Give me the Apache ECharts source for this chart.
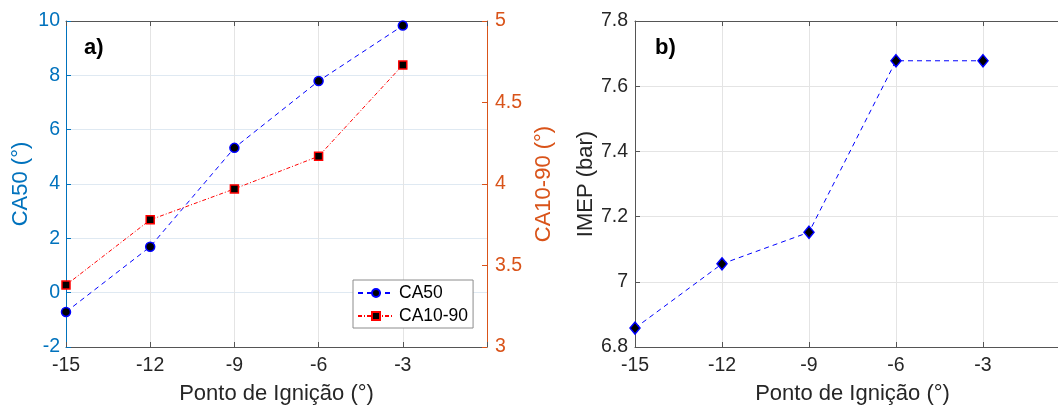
<!DOCTYPE html>
<html>
<head>
<meta charset="utf-8">
<script src="https://cdn.jsdelivr.net/npm/echarts@6/dist/echarts.min.js"></script>
<style>
  html, body { margin: 0; padding: 0; background: #fff; }
  #main { width: 1058px; height: 408px; }
</style>
</head>
<body>
<div id="main"></div>
<script>
// dados
var ignicao = [-15, -12, -9, -6, -3];
var ca50 = [-0.71, 1.69, 5.33, 7.79, 9.83];
var ca1090 = [3.38, 3.78, 3.97, 4.17, 4.73];
var imep = [6.858, 7.055, 7.152, 7.678, 7.678];
var xTicks = [-15, -12, -9, -6, -3];

var fonte = '"Liberation Sans", Arial, sans-serif';
var azul = '#0072BD', laranja = '#D95319', cinza = '#262626';

function pares(ys) {
    return ignicao.map(function (x, i) { return [x, ys[i]]; });
}
function rotX(v) { return xTicks.indexOf(v) >= 0 ? String(v) : ''; }

var myChart = echarts.init(document.getElementById('main'));

// eixo x base (usado nos dois paineis)
function eixoX(grid, top) {
    return {
        type: 'value', gridIndex: grid, min: -15, max: 0, interval: 3,
        position: top ? 'top' : 'bottom',
        name: top ? '' : 'Ponto de Ignição (°)',
        nameLocation: 'middle', nameGap: 36,
        nameTextStyle: { color: cinza, fontSize: 22, fontFamily: fonte },
        axisLine: { show: true, onZero: false, lineStyle: { color: '#555', width: 1 } },
        axisTick: { show: true, inside: true, length: 5, lineStyle: { color: '#555' } },
        axisLabel: { show: !top, color: cinza, fontSize: 19.5, fontFamily: fonte, margin: 9,
            formatter: rotX },
        splitLine: { show: !top, lineStyle: { color: '#e4e4e4', width: 1 } }
    };
}

option = {
    animation: false,
    title: [
        { text: 'a)', left: 79, top: 32, textStyle: { fontSize: 22, fontWeight: 'bold', color: '#000', fontFamily: fonte } },
        { text: 'b)', left: 650, top: 32, textStyle: { fontSize: 22, fontWeight: 'bold', color: '#000', fontFamily: fonte } }
    ],
    grid: [
        { left: 66, top: 21, width: 421, height: 326, outerBoundsMode: 'none' },
        { left: 635, top: 21, width: 435, height: 326, outerBoundsMode: 'none' }
    ],
    legend: {
        orient: 'vertical', left: 353, top: 280,
        data: ['CA50', 'CA10-90'],
        itemWidth: 36, itemHeight: 10, itemGap: 5,
        padding: [4, 5, 3, 4],
        backgroundColor: '#fff', borderColor: '#8c8c8c', borderWidth: 1,
        textStyle: { color: '#000', fontSize: 17.5, fontFamily: fonte }
    },
    xAxis: [eixoX(0, false), eixoX(0, true), eixoX(1, false), eixoX(1, true)],
    yAxis: [
        {
            type: 'value', gridIndex: 0, min: -2, max: 10, interval: 2, position: 'left',
            name: 'CA50 (°)', nameLocation: 'middle', nameGap: 34,
            nameTextStyle: { color: azul, fontSize: 22, fontFamily: fonte },
            axisLine: { show: true, onZero: false, lineStyle: { color: azul, width: 1 } },
            axisTick: { show: true, inside: true, length: 5, lineStyle: { color: azul } },
            axisLabel: { color: azul, fontSize: 19.5, fontFamily: fonte, margin: 6 },
            splitLine: { show: true, lineStyle: { color: '#dfe9f2', width: 1 } }
        },
        {
            type: 'value', gridIndex: 0, min: 3, max: 5, interval: 0.5, position: 'right',
            name: 'CA10-90 (°)', nameLocation: 'middle', nameGap: 46,
            nameTextStyle: { color: laranja, fontSize: 22, fontFamily: fonte },
            axisLine: { show: true, onZero: false, lineStyle: { color: laranja, width: 1 } },
            axisTick: { show: true, inside: true, length: 5, lineStyle: { color: laranja } },
            axisLabel: { color: laranja, fontSize: 19.5, fontFamily: fonte, margin: 8 },
            splitLine: { show: false }
        },
        {
            type: 'value', gridIndex: 1, min: 6.8, max: 7.8, interval: 0.2, position: 'left',
            name: 'IMEP (bar)', nameLocation: 'middle', nameGap: 37,
            nameTextStyle: { color: cinza, fontSize: 22, fontFamily: fonte },
            axisLine: { show: true, onZero: false, lineStyle: { color: '#555', width: 1 } },
            axisTick: { show: true, inside: true, length: 5, lineStyle: { color: '#555' } },
            axisLabel: { color: cinza, fontSize: 19.5, fontFamily: fonte, margin: 7,
                formatter: function (v) { return Math.round(v * 10) / 10 + ''; } },
            splitLine: { show: true, lineStyle: { color: '#e4e4e4', width: 1 } }
        }
    ],
    series: [
        {
            name: 'CA50', type: 'line', xAxisIndex: 0, yAxisIndex: 0,
            data: pares(ca50),
            symbol: 'circle', symbolSize: 9,
            lineStyle: { color: '#0000ff', width: 1, type: [5, 4] },
            itemStyle: { color: '#000', borderColor: '#0000ff', borderWidth: 1.5 },
            z: 3
        },
        {
            name: 'CA10-90', type: 'line', xAxisIndex: 0, yAxisIndex: 1,
            data: pares(ca1090),
            symbol: 'rect', symbolSize: 8,
            lineStyle: { color: '#ff0000', width: 1, type: [4, 2, 1, 2] },
            itemStyle: { color: '#000', borderColor: '#ff0000', borderWidth: 1.5 },
            z: 3
        },
        {
            name: 'IMEP', type: 'line', xAxisIndex: 2, yAxisIndex: 2,
            data: pares(imep),
            symbol: 'diamond', symbolSize: [10, 12],
            lineStyle: { color: '#0000ff', width: 1, type: [5, 4] },
            itemStyle: { color: '#000', borderColor: '#0000ff', borderWidth: 1.5 },
            z: 3
        }
    ]
};
myChart.setOption(option);
</script>
</body>
</html>
